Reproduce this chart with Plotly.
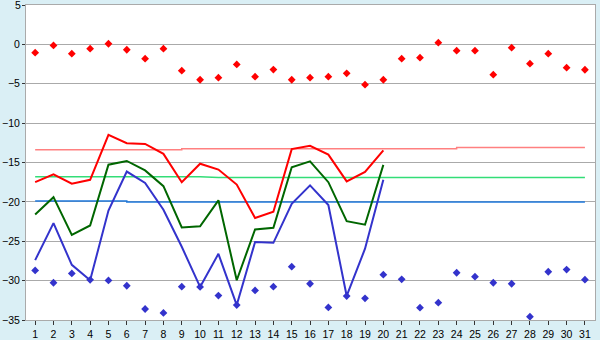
import plotly.graph_objects as go

days = list(range(1, 32))
line_days = list(range(1, 21))

red_line = [-17.5, -16.5, -17.7, -17.2, -11.5, -12.55, -12.65, -13.9, -17.5, -15.15,
            -15.9, -17.8, -22.05, -21.25, -13.3, -12.87, -14.0, -17.4, -16.2, -13.45]
green_line = [-21.6, -19.4, -24.2, -23.0, -15.28, -14.8, -16.0, -18.0, -23.25, -23.1,
              -19.8, -29.95, -23.5, -23.3, -15.6, -14.86, -17.5, -22.45, -22.9, -15.3]
blue_line = [-27.4, -22.7, -28.0, -29.95, -21.1, -16.15, -17.6, -21.0, -25.7, -30.8,
             -26.6, -33.1, -25.1, -25.2, -20.25, -17.9, -20.4, -31.95, -25.95, -17.2]

red_points = [-1.06, -0.13, -1.18, -0.55, 0.08, -0.68, -1.82, -0.55, -3.34, -4.49,
              -4.23, -2.54, -4.1, -3.2, -4.49, -4.23, -4.1, -3.68, -5.12, -4.49,
              -1.82, -1.69, 0.21, -0.8, -0.8, -3.85, -0.42, -2.45, -1.18, -2.96, -3.22]
blue_points = [-28.7, -30.27, -29.08, -29.9, -29.97, -30.65, -33.6, -34.1, -30.77, -30.8,
               -31.9, -33.1, -31.24, -30.77, -28.23, -30.4, -33.4, -31.96, -32.25, -29.25,
               -29.84, -33.44, -32.8, -29.0, -29.5, -30.27, -30.4, -34.58, -28.87, -28.6, -29.88]

norm_max = [-13.37] * 8 + [-13.25] * 15 + [-13.08] * 8
norm_mean = [-16.8] * 10 + [-16.9] * 21
norm_min = [-19.9] * 5 + [-20.0] * 26

y_ticks = [5, 0, -5, -10, -15, -20, -25, -30, -35]
y_labels = ["", "0", "\u22125", "\u221210", "\u221215", "\u221220", "\u221225", "\u221230", "\u221235"]
top_label = "5"

fig = go.Figure()
fig.add_trace(go.Scatter(x=days, y=norm_max, mode="lines", line=dict(color="#FF8080", width=1.5, shape="hv")))
fig.add_trace(go.Scatter(x=days, y=norm_mean, mode="lines", line=dict(color="#33DD77", width=1.5)))
fig.add_trace(go.Scatter(x=days, y=norm_min, mode="lines", line=dict(color="#1E78DC", width=1.5, shape="hv")))
fig.add_trace(go.Scatter(x=line_days, y=blue_line, mode="lines", line=dict(color="#3333CC", width=2)))
fig.add_trace(go.Scatter(x=line_days, y=green_line, mode="lines", line=dict(color="#006600", width=2)))
fig.add_trace(go.Scatter(x=line_days, y=red_line, mode="lines", line=dict(color="#FF0000", width=2)))
fig.add_trace(go.Scatter(x=days, y=red_points, mode="markers",
                         marker=dict(symbol="diamond", size=6, color="#FF0000")))
fig.add_trace(go.Scatter(x=days, y=blue_points, mode="markers",
                         marker=dict(symbol="diamond", size=6, color="#3333CC")))

fig.add_annotation(x=0, xref="paper", y=1, yref="paper", text=top_label, showarrow=False,
                   xanchor="right", yanchor="middle", xshift=-4, borderpad=0,
                   font=dict(family="Liberation Sans", size=10.5, color="#000000"))

fig.update_layout(
    width=600, height=340,
    margin=dict(l=26, r=5, t=5, b=20, autoexpand=False),
    paper_bgcolor="#DAEFF5",
    plot_bgcolor="#FFFFFF",
    showlegend=False,
    font=dict(family="Liberation Sans", size=10.5, color="#000000"),
)
fig.update_xaxes(range=[0.5, 31.55], tickmode="array", tickvals=days, ticktext=[str(d) for d in days],
                 showgrid=False, zeroline=False, showline=True, linecolor="#AAAAAA", linewidth=1,
                 mirror=True, ticks="outside", ticklen=4, tickcolor="#333333",
                 automargin=False)
fig.update_yaxes(range=[-35, 5], tickmode="array", tickvals=y_ticks, ticktext=y_labels,
                 showgrid=True, gridcolor="#AAAAAA", gridwidth=1, zeroline=False,
                 showline=True, linecolor="#AAAAAA", linewidth=1, mirror=True,
                 ticks="outside", ticklen=3, tickcolor="#333333",
                 automargin=False)

fig.write_html("out.html")
